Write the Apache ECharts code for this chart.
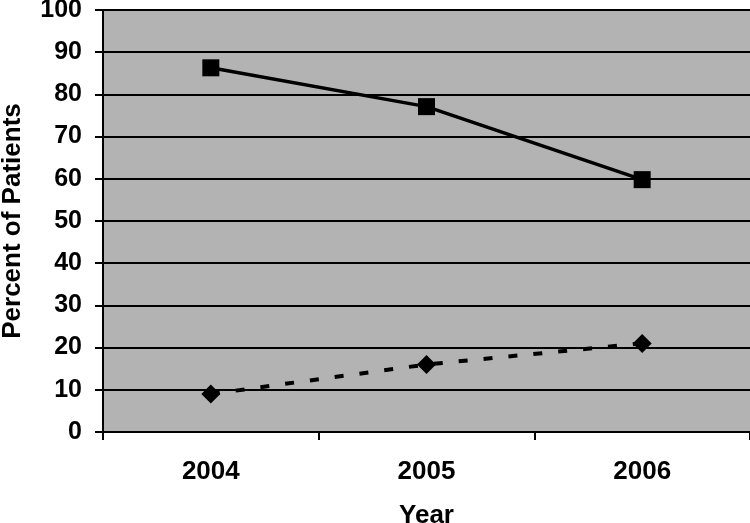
<!DOCTYPE html>
<html>
<head>
<meta charset="utf-8">
<script src="https://cdn.jsdelivr.net/npm/echarts@6/dist/echarts.min.js"></script>
<style>
  html, body { margin: 0; padding: 0; background: #fff; }
  #chart { width: 750px; height: 523px; }
</style>
</head>
<body>
<div id="chart"></div>
<script>
const years = ['2004', '2005', '2006'];
const solidValues = [86.3, 77.1, 59.8];
const dashedValues = [9.0, 16.0, 21.0];
const yTicks = { min: 0, max: 100, interval: 10 };

const chart = echarts.init(document.getElementById('chart'));
const font = 'Liberation Sans, Arial, sans-serif';

const option = {
  animation: false,
  grid: {
    left: 103,
    right: 0,
    top: 10,
    bottom: 91,
    outerBoundsMode: 'none',
    containLabel: false,
    show: true,
    backgroundColor: '#b3b3b3',
    borderWidth: 0
  },
  xAxis: {
    type: 'category',
    data: years,
    boundaryGap: true,
    name: 'Year',
    nameLocation: 'middle',
    nameGap: 71,
    nameTextStyle: { color: '#000', fontSize: 26, fontWeight: 'bold', fontFamily: font },
    axisLine: { lineStyle: { color: '#000', width: 2 } },
    axisTick: { show: true, length: 8, inside: false, lineStyle: { color: '#000', width: 2 } },
    axisLabel: { color: '#000', fontSize: 26, fontWeight: 'bold', fontFamily: font, margin: 27 },
    splitLine: { show: false }
  },
  yAxis: {
    type: 'value',
    min: yTicks.min,
    max: yTicks.max,
    interval: yTicks.interval,
    name: 'Percent of Patients',
    nameLocation: 'middle',
    nameGap: 77,
    nameTextStyle: { color: '#000', fontSize: 26, fontWeight: 'bold', fontFamily: font },
    axisLine: { show: true, lineStyle: { color: '#000', width: 2 } },
    axisTick: { show: true, length: 8, lineStyle: { color: '#000', width: 2 } },
    axisLabel: { color: '#000', fontSize: 25, fontWeight: 'bold', fontFamily: font, margin: 21 },
    splitLine: { show: true, lineStyle: { color: '#000', width: 2 } }
  },
  series: [
    {
      type: 'line',
      data: solidValues,
      symbol: 'rect',
      symbolSize: 17,
      itemStyle: { color: '#000' },
      lineStyle: { color: '#000', width: 3.5 }
    },
    {
      type: 'line',
      data: dashedValues,
      symbol: 'diamond',
      symbolSize: [19, 19],
      itemStyle: { color: '#000' },
      lineStyle: { color: '#000', width: 4, type: [9, 16] }
    }
  ]
};

chart.setOption(option);
</script>
</body>
</html>
